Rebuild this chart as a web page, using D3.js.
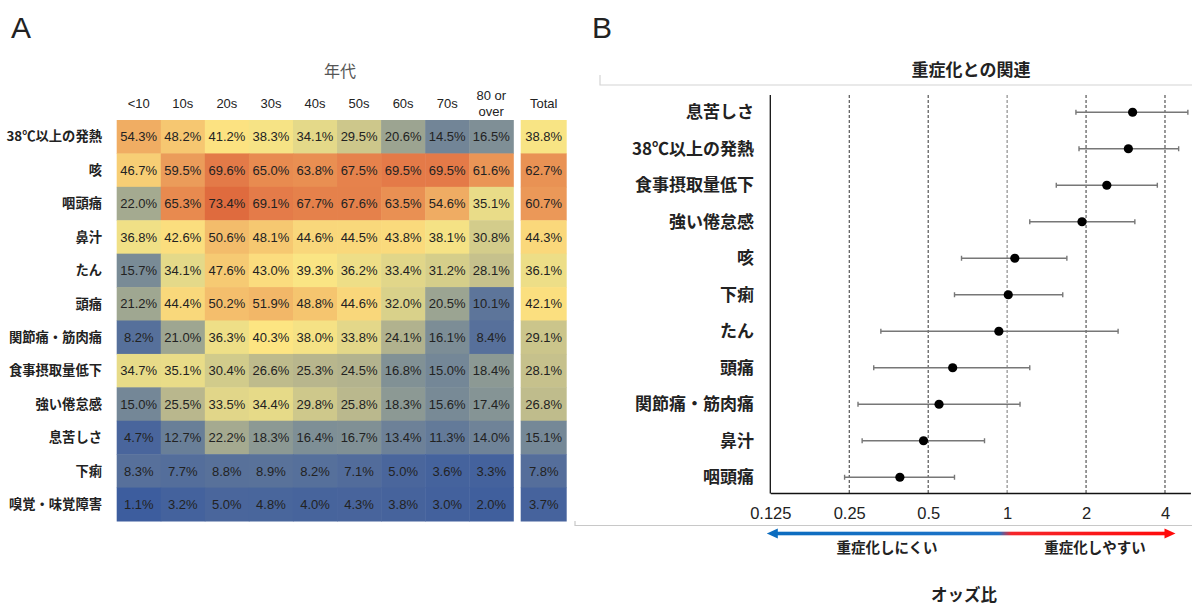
<!DOCTYPE html>
<html>
<head>
<meta charset="utf-8">
<script src="https://cdn.jsdelivr.net/npm/d3@7"></script>
<style>
  html, body { margin: 0; padding: 0; background: #fff; }
  svg { display: block; }
</style>
</head>
<body>
<svg id="chart" width="1192" height="607"></svg>
<script>
// ---- Panel A: symptom prevalence by age group (%) ----
const ageGroups = ["<10", "10s", "20s", "30s", "40s", "50s", "60s", "70s", "80 or over"];
const symptomsA = ["38℃以上の発熱", "咳", "咽頭痛", "鼻汁", "たん", "頭痛", "関節痛・筋肉痛",
                   "食事摂取量低下", "強い倦怠感", "息苦しさ", "下痢", "嗅覚・味覚障害"];
const prevalence = [
  [54.3, 48.2, 41.2, 38.3, 34.1, 29.5, 20.6, 14.5, 16.5],
  [46.7, 59.5, 69.6, 65.0, 63.8, 67.5, 69.5, 69.5, 61.6],
  [22.0, 65.3, 73.4, 69.1, 67.7, 67.6, 63.5, 54.6, 35.1],
  [36.8, 42.6, 50.6, 48.1, 44.6, 44.5, 43.8, 38.1, 30.8],
  [15.7, 34.1, 47.6, 43.0, 39.3, 36.2, 33.4, 31.2, 28.1],
  [21.2, 44.4, 50.2, 51.9, 48.8, 44.6, 32.0, 20.5, 10.1],
  [8.2, 21.0, 36.3, 40.3, 38.0, 33.8, 24.1, 16.1, 8.4],
  [34.7, 35.1, 30.4, 26.6, 25.3, 24.5, 16.8, 15.0, 18.4],
  [15.0, 25.5, 33.5, 34.4, 29.8, 25.8, 18.3, 15.6, 17.4],
  [4.7, 12.7, 22.2, 18.3, 16.4, 16.7, 13.4, 11.3, 14.0],
  [8.3, 7.7, 8.8, 8.9, 8.2, 7.1, 5.0, 3.6, 3.3],
  [1.1, 3.2, 5.0, 4.8, 4.0, 4.3, 3.8, 3.0, 2.0]
];
const totals = [38.8, 62.7, 60.7, 44.3, 36.1, 42.1, 29.1, 28.1, 26.8, 15.1, 7.8, 3.7];

// colour ramp for percentages
const rampStops = [0, 5, 10, 15, 20, 25, 30, 35, 40, 45, 50, 55, 60, 65, 70, 75];
const rampColors = ["#395a9e", "#4a669c", "#5d759a", "#748797", "#98a292", "#b6b58d",
                    "#cfc98b", "#e9dc88", "#fde683", "#f9d67a", "#f4bf6c", "#efaa62",
                    "#eb9a59", "#e88b50", "#e37847", "#dd653a"];

// ---- Panel B: odds ratios for severe disease ----
const symptomsB = ["息苦しさ", "38℃以上の発熱", "食事摂取量低下", "強い倦怠感", "咳", "下痢",
                   "たん", "頭痛", "関節痛・筋肉痛", "鼻汁", "咽頭痛"];
const oddsRatio = [3.01, 2.90, 2.40, 1.93, 1.07, 1.01, 0.93, 0.62, 0.55, 0.48, 0.39];
const ciLower   = [1.83, 1.88, 1.54, 1.22, 0.67, 0.63, 0.33, 0.31, 0.27, 0.28, 0.24];
const ciUpper   = [4.89, 4.51, 3.74, 3.07, 1.69, 1.63, 2.65, 1.22, 1.12, 0.82, 0.63];
const orTicks   = [0.125, 0.25, 0.5, 1, 2, 4];
const refLines  = [0.25, 0.5, 1, 2, 4];

const svg = d3.select("#chart");
const latin = "'Liberation Sans', Arial, sans-serif";
const cjk = "'Noto Sans CJK JP', 'Liberation Sans', sans-serif";

svg.append("rect").attr("width", 1192).attr("height", 607).attr("fill", "#fff");

// panel letters
svg.append("text").attr("x", 11).attr("y", 38).text("A")
  .attr("font-family", latin).attr("font-size", 30).attr("fill", "#222");
svg.append("text").attr("x", 592).attr("y", 38).text("B")
  .attr("font-family", latin).attr("font-size", 30).attr("fill", "#222");

// ================= Panel A =================
const color = d3.scaleLinear().domain(rampStops).range(rampColors)
  .interpolate(d3.interpolateRgb).clamp(true);

const x = d3.scaleBand().domain(ageGroups).range([116.7, 513.3]);
const y = d3.scaleBand().domain(symptomsA).range([120, 521]);
const totalX = 520.7, totalW = 46;

const gA = svg.append("g");

gA.append("text").attr("x", 340).attr("y", 77).attr("text-anchor", "middle")
  .attr("font-family", cjk).attr("font-size", 16).attr("fill", "#555").text("年代");

// column headers
ageGroups.forEach(a => {
  const cx = x(a) + x.bandwidth() / 2;
  const t = gA.append("text").attr("text-anchor", "middle")
    .attr("font-family", latin).attr("font-size", 13).attr("fill", "#222");
  if (a === "80 or over") {
    t.append("tspan").attr("x", cx).attr("y", 100).text("80 or");
    t.append("tspan").attr("x", cx).attr("y", 116).text("over");
  } else {
    t.attr("x", cx).attr("y", 107.5).text(a);
  }
});
gA.append("text").attr("x", totalX + totalW / 2).attr("y", 107.5).attr("text-anchor", "middle")
  .attr("font-family", latin).attr("font-size", 13).attr("fill", "#222").text("Total");

// row labels
gA.selectAll("text.rowlab").data(symptomsA).join("text")
  .attr("class", "rowlab")
  .attr("x", 102).attr("y", d => y(d) + y.bandwidth() / 2)
  .attr("dy", "0.36em").attr("text-anchor", "end")
  .attr("font-family", cjk).attr("font-weight", "bold").attr("font-size", 13.3)
  .attr("fill", "#222").text(d => d);

// cells
const cells = [];
symptomsA.forEach((s, i) => ageGroups.forEach((a, j) => cells.push({ s, a, v: prevalence[i][j] })));

gA.selectAll("rect.cell").data(cells).join("rect")
  .attr("class", "cell")
  .attr("x", d => x(d.a)).attr("y", d => y(d.s))
  .attr("width", x.bandwidth() + 0.5).attr("height", y.bandwidth() + 0.5)
  .attr("fill", d => color(d.v));

gA.selectAll("text.cellv").data(cells).join("text")
  .attr("class", "cellv")
  .attr("x", d => x(d.a) + x.bandwidth() / 2).attr("y", d => y(d.s) + y.bandwidth() / 2)
  .attr("dy", "0.36em").attr("text-anchor", "middle")
  .attr("font-family", latin).attr("font-size", 13).attr("fill", "#222")
  .text(d => d.v.toFixed(1) + "%");

// total column
const totalCells = symptomsA.map((s, i) => ({ s, v: totals[i] }));
gA.selectAll("rect.tot").data(totalCells).join("rect")
  .attr("class", "tot")
  .attr("x", totalX).attr("y", d => y(d.s))
  .attr("width", totalW).attr("height", y.bandwidth() + 0.5)
  .attr("fill", d => color(d.v));
gA.selectAll("text.totv").data(totalCells).join("text")
  .attr("class", "totv")
  .attr("x", totalX + totalW / 2).attr("y", d => y(d.s) + y.bandwidth() / 2)
  .attr("dy", "0.36em").attr("text-anchor", "middle")
  .attr("font-family", latin).attr("font-size", 13).attr("fill", "#222")
  .text(d => d.v.toFixed(1) + "%");

// ================= Panel B =================
const gB = svg.append("g");

// faint frame around the forest plot
gB.append("path").attr("d", "M600,75V85H1192").attr("fill", "none")
  .attr("stroke", "#d4d4d4").attr("stroke-width", 1.2);
gB.append("path").attr("d", "M575,521V525.5H1192").attr("fill", "none")
  .attr("stroke", "#c8c8c8").attr("stroke-width", 1.2);

gB.append("text").attr("x", 971).attr("y", 76).attr("text-anchor", "middle")
  .attr("font-family", cjk).attr("font-weight", "bold").attr("font-size", 17)
  .attr("fill", "#222").text("重症化との関連");

const xo = d3.scaleLog().base(2).domain([0.125, 5]).range([770.3, 1190.4]);
const yo = d3.scaleBand().domain(symptomsB).range([94, 495.5]);
const axisY = 493;

// reference lines
gB.selectAll("line.ref").data(refLines).join("line")
  .attr("class", "ref")
  .attr("x1", d => xo(d)).attr("x2", d => xo(d))
  .attr("y1", 95).attr("y2", axisY)
  .attr("stroke", d => d === 1 ? "#777" : "#333").attr("stroke-width", 1)
  .attr("stroke-dasharray", "3,2");

// x axis
const xAxis = d3.axisBottom(xo).tickValues(orTicks).tickSize(0).tickPadding(14)
  .tickFormat(d => String(d));
const ax = gB.append("g").attr("transform", `translate(0,${axisY})`).call(xAxis);
ax.select(".domain").attr("stroke", "#111").attr("stroke-width", 1.3);
ax.selectAll("text").attr("font-family", latin).attr("font-size", 16.5).attr("fill", "#222");

// y axis line
gB.append("line").attr("x1", xo(0.125)).attr("x2", xo(0.125))
  .attr("y1", 95).attr("y2", axisY + 0.5).attr("stroke", "#111").attr("stroke-width", 1.3);

// labels
gB.selectAll("text.blab").data(symptomsB).join("text")
  .attr("class", "blab")
  .attr("x", 754).attr("y", d => yo(d) + yo.bandwidth() / 2)
  .attr("dy", "0.36em").attr("text-anchor", "end")
  .attr("font-family", cjk).attr("font-weight", "bold").attr("font-size", 17)
  .attr("fill", "#222").text(d => d);

// confidence intervals and estimates
const est = symptomsB.map((s, i) => ({ s, or: oddsRatio[i], lo: ciLower[i], hi: ciUpper[i] }));
const cy = d => yo(d.s) + yo.bandwidth() / 2;

gB.selectAll("line.ci").data(est).join("line")
  .attr("class", "ci")
  .attr("x1", d => xo(d.lo)).attr("x2", d => xo(d.hi))
  .attr("y1", cy).attr("y2", cy)
  .attr("stroke", "#777").attr("stroke-width", 1.6);
["lo", "hi"].forEach(k => {
  gB.selectAll("line.cap" + k).data(est).join("line")
    .attr("class", "cap" + k)
    .attr("x1", d => xo(d[k])).attr("x2", d => xo(d[k]))
    .attr("y1", d => cy(d) - 2.5).attr("y2", d => cy(d) + 2.5)
    .attr("stroke", "#777").attr("stroke-width", 1.4);
});
gB.selectAll("circle.pt").data(est).join("circle")
  .attr("class", "pt")
  .attr("cx", d => xo(d.or)).attr("cy", cy).attr("r", 4.6)
  .attr("fill", "#000");

// direction arrow: blue toward lower risk, red toward higher risk
const arrowY = 533.5;
const leftTip = xo(0.125) - 3.5, rightTip = xo(4) + 10.5, mid = xo(1);
const defs = svg.append("defs");
const grad = defs.append("linearGradient").attr("id", "dirGrad")
  .attr("gradientUnits", "userSpaceOnUse")
  .attr("x1", leftTip).attr("x2", rightTip).attr("y1", 0).attr("y2", 0);
const midFrac = (mid - leftTip) / (rightTip - leftTip);
grad.append("stop").attr("offset", 0).attr("stop-color", "#0b6cbf");
grad.append("stop").attr("offset", midFrac - 0.02).attr("stop-color", "#1f74c8");
grad.append("stop").attr("offset", midFrac + 0.01).attr("stop-color", "#f5262a");
grad.append("stop").attr("offset", 1).attr("stop-color", "#ff0a0a");

gB.append("rect").attr("x", leftTip + 9).attr("y", arrowY - 1.8)
  .attr("width", rightTip - leftTip - 18).attr("height", 3.6)
  .attr("fill", "url(#dirGrad)");
gB.append("path")
  .attr("d", `M${leftTip},${arrowY}L${leftTip + 11},${arrowY - 5}L${leftTip + 11},${arrowY + 5}Z`)
  .attr("fill", "#0b6cbf");
gB.append("path")
  .attr("d", `M${rightTip},${arrowY}L${rightTip - 11},${arrowY - 5}L${rightTip - 11},${arrowY + 5}Z`)
  .attr("fill", "#ff0a0a");

gB.append("text").attr("x", 887).attr("y", 553).attr("text-anchor", "middle")
  .attr("font-family", cjk).attr("font-weight", "bold").attr("font-size", 14.5)
  .attr("fill", "#222").text("重症化しにくい");
gB.append("text").attr("x", 1095).attr("y", 553).attr("text-anchor", "middle")
  .attr("font-family", cjk).attr("font-weight", "bold").attr("font-size", 14.5)
  .attr("fill", "#222").text("重症化しやすい");

gB.append("text").attr("x", 964).attr("y", 601).attr("text-anchor", "middle")
  .attr("font-family", cjk).attr("font-weight", "bold").attr("font-size", 16.5)
  .attr("fill", "#222").text("オッズ比");
</script>
</body>
</html>
